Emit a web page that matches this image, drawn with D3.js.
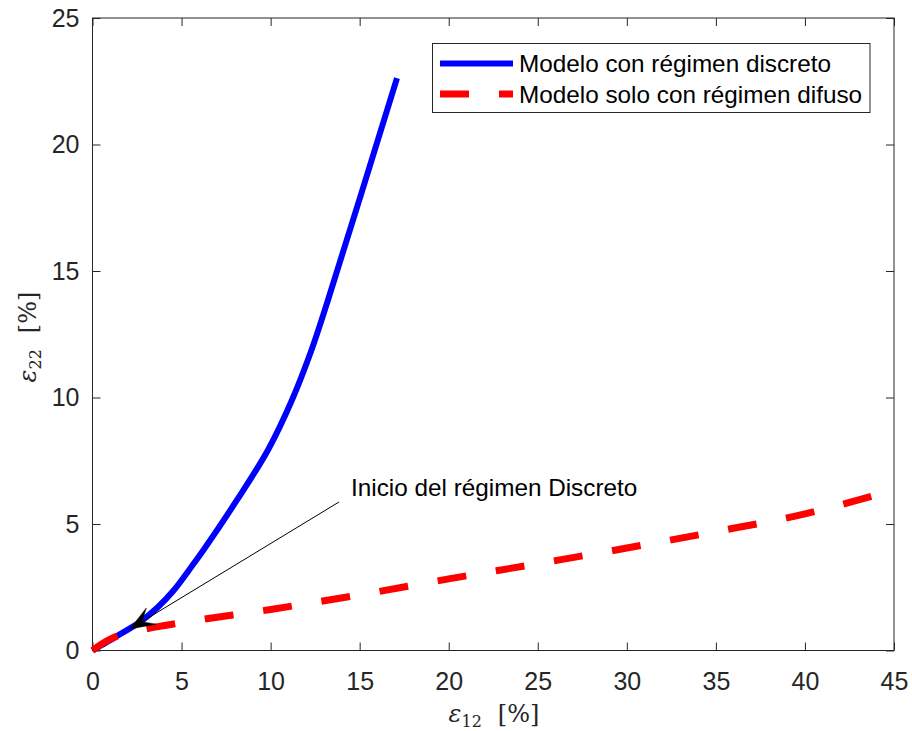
<!DOCTYPE html>
<html>
<head>
<meta charset="utf-8">
<script src="https://cdn.jsdelivr.net/npm/d3@7"></script>
<style>
  html, body { margin: 0; padding: 0; background: #fff; }
  svg { display: block; }
  text { font-family: "Liberation Sans", Arial, Helvetica, sans-serif; }
</style>
</head>
<body>
<svg id="chart" width="912" height="731"></svg>
<script>
// Shear strain (x) vs normal strain (y), both in percent
const discreteX = [0, 0.5, 1.0, 1.376, 2.667, 3.678, 4.576, 5.586, 6.232, 8.113, 9.853, 11.2, 12.296, 13.222, 17.096];
const discreteY = [0, 0.21, 0.41, 0.573, 1.126, 1.719, 2.391, 3.34, 3.972, 5.949, 7.925, 9.901, 11.877, 13.854, 22.628];

const diffuseX = [0, 0.5, 1.0, 1.5, 2.5, 5, 10, 15, 20, 25, 30, 35, 40, 43.9];
const diffuseY = [0, 0.25, 0.45, 0.6, 0.78, 1.1, 1.62, 2.2, 2.83, 3.43, 4.05, 4.7, 5.4, 6.13];

const xTicks = [0, 5, 10, 15, 20, 25, 30, 35, 40, 45];
const yTicks = [0, 5, 10, 15, 20, 25];

const seriesNames = ["Modelo con régimen discreto", "Modelo solo con régimen difuso"];
const annotationText = "Inicio del régimen Discreto";
const annotationPoint = [2.1, 0.85];   // arrow tip, data units
const annotationStart = [13.84, 5.87]; // tail near the label, data units

const svg = d3.select("#chart");
const plot = { left: 92.5, right: 894, top: 18, bottom: 650.5 };
const axisColor = "#262626";

const x = d3.scaleLinear().domain([0, 45]).range([plot.left, plot.right]);
const y = d3.scaleLinear().domain([0, 25]).range([plot.bottom, plot.top]);

// Axes with inward ticks, mirrored on top and right (boxed frame)
const tickLen = 8;
const bottomAxis = d3.axisBottom(x).tickValues(xTicks).tickSizeInner(-tickLen).tickSizeOuter(0).tickPadding(22);
const topAxis = d3.axisTop(x).tickValues(xTicks).tickSizeInner(-tickLen).tickSizeOuter(0).tickFormat("");
const leftAxis = d3.axisLeft(y).tickValues(yTicks).tickSizeInner(-tickLen).tickSizeOuter(0).tickPadding(13);
const rightAxis = d3.axisRight(y).tickValues(yTicks).tickSizeInner(-tickLen).tickSizeOuter(0).tickFormat("");

function styleAxis(g) {
  g.select(".domain").remove();
  g.selectAll(".tick line").attr("stroke", axisColor).attr("stroke-width", 1);
  g.selectAll(".tick text")
    .attr("fill", axisColor)
    .style("font-family", "'Liberation Sans', Arial, sans-serif")
    .style("font-size", "25px");
}

svg.append("g").attr("transform", `translate(0,${plot.bottom})`).call(bottomAxis).call(styleAxis);
svg.append("g").attr("transform", `translate(0,${plot.top})`).call(topAxis).call(styleAxis);
svg.append("g").attr("transform", `translate(${plot.left},0)`).call(leftAxis).call(styleAxis);
svg.append("g").attr("transform", `translate(${plot.right},0)`).call(rightAxis).call(styleAxis);

svg.append("rect")
  .attr("x", plot.left).attr("y", plot.top)
  .attr("width", plot.right - plot.left).attr("height", plot.bottom - plot.top)
  .attr("fill", "none").attr("stroke", axisColor).attr("stroke-width", 1);

// Curves
const discrete = discreteX.map((v, i) => [v, discreteY[i]]);
const diffuse = diffuseX.map((v, i) => [v, diffuseY[i]]);

const discreteLine = d3.line().x(d => x(d[0])).y(d => y(d[1])).curve(d3.curveCatmullRom.alpha(0.5));
const diffuseLine = d3.line().x(d => x(d[0])).y(d => y(d[1])).curve(d3.curveMonotoneX);

svg.append("path").datum(discrete)
  .attr("d", discreteLine)
  .attr("fill", "none").attr("stroke", "#0000ff").attr("stroke-width", 6)
  .attr("stroke-linejoin", "round");

svg.append("path").datum(diffuse)
  .attr("d", diffuseLine)
  .attr("fill", "none").attr("stroke", "#ff0000").attr("stroke-width", 7)
  .attr("stroke-dasharray", "29,30").attr("stroke-linejoin", "round");

// Annotation arrow
const tip = [x(annotationPoint[0]), y(annotationPoint[1])];
const tail = [x(annotationStart[0]), y(annotationStart[1])];
svg.append("line")
  .attr("x1", tail[0]).attr("y1", tail[1]).attr("x2", tip[0]).attr("y2", tip[1])
  .attr("stroke", "#000").attr("stroke-width", 1);

{
  const dx = tail[0] - tip[0], dy = tail[1] - tip[1];
  const L = Math.hypot(dx, dy);
  const ux = dx / L, uy = dy / L;       // along the shaft
  const px = -uy, py = ux;              // perpendicular
  const headLen = 25, halfW = 9.5, notch = 14;
  const w1 = [tip[0] + ux * headLen + px * halfW, tip[1] + uy * headLen + py * halfW];
  const w2 = [tip[0] + ux * headLen - px * halfW, tip[1] + uy * headLen - py * halfW];
  const back = [tip[0] + ux * notch, tip[1] + uy * notch];
  svg.append("path")
    .attr("d", `M${tip}L${w1}L${back}L${w2}Z`)
    .attr("fill", "#000").attr("stroke", "#000").attr("stroke-width", 0.5);
}

svg.append("text")
  .attr("x", 351).attr("y", 496)
  .attr("fill", "#000")
  .style("font-size", "24.3px")
  .text(annotationText);

// Legend
const legend = svg.append("g");
legend.append("rect")
  .attr("x", 432.5).attr("y", 43.5).attr("width", 437.5).attr("height", 69)
  .attr("fill", "#fff").attr("stroke", axisColor).attr("stroke-width", 1);

legend.append("line")
  .attr("x1", 440).attr("x2", 513).attr("y1", 63.5).attr("y2", 63.5)
  .attr("stroke", "#0000ff").attr("stroke-width", 6);
legend.append("line")
  .attr("x1", 440).attr("x2", 513).attr("y1", 94).attr("y2", 94)
  .attr("stroke", "#ff0000").attr("stroke-width", 7).attr("stroke-dasharray", "29,30");

legend.selectAll("text.lbl").data(seriesNames).enter().append("text")
  .attr("class", "lbl")
  .attr("x", 519).attr("y", (d, i) => 72 + i * 31)
  .attr("fill", "#000")
  .style("font-size", "24.3px")
  .text(d => d);

// Axis titles (math style)
const serif = "'DejaVu Serif', 'Liberation Serif', serif";
const xTitle = svg.append("text")
  .attr("x", 494).attr("y", 722)
  .attr("text-anchor", "middle")
  .attr("fill", axisColor)
  .style("font-family", serif)
  .style("font-size", "24px");
xTitle.append("tspan").style("font-style", "italic").text("ε");
xTitle.append("tspan").attr("dy", 5).style("font-size", "16px").text("12");
xTitle.append("tspan").attr("dy", -5).attr("dx", 16).text("[%]");

const yTitle = svg.append("text")
  .attr("transform", "translate(36,337) rotate(-90)")
  .attr("text-anchor", "middle")
  .attr("fill", axisColor)
  .style("font-family", serif)
  .style("font-size", "24px");
yTitle.append("tspan").style("font-style", "italic").text("ε");
yTitle.append("tspan").attr("dy", 5).style("font-size", "16px").text("22");
yTitle.append("tspan").attr("dy", -5).attr("dx", 16).text("[%]");
</script>
</body>
</html>
